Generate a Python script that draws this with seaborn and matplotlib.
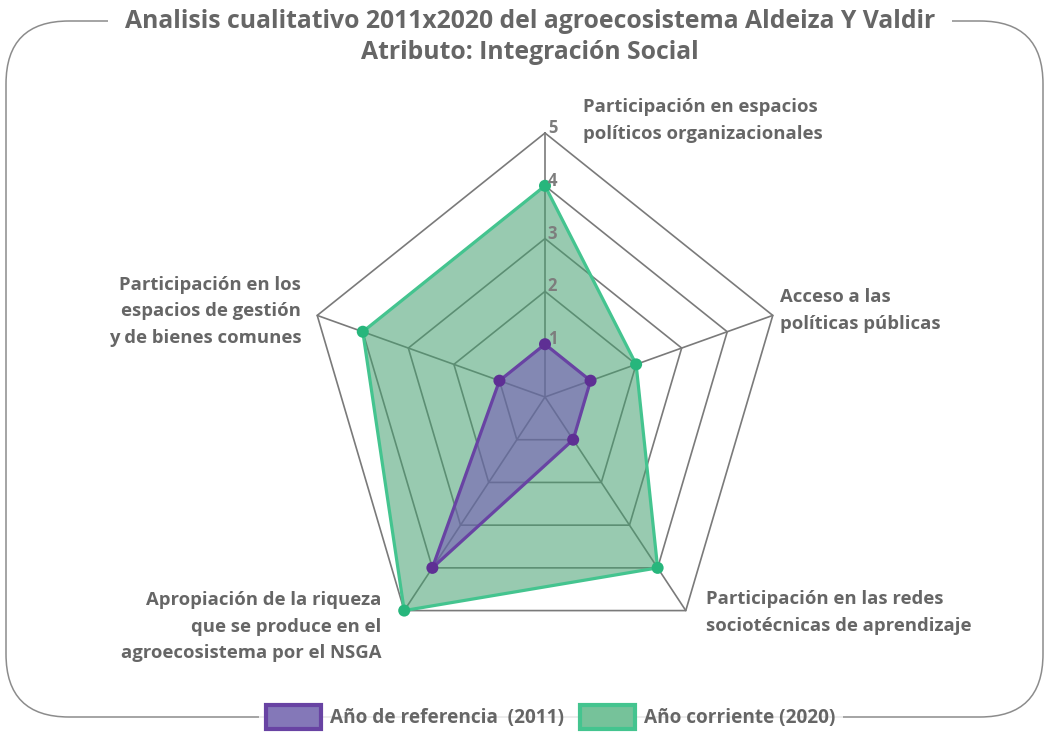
import numpy as np
import pandas as pd
import matplotlib
matplotlib.use('Agg')
import matplotlib.pyplot as plt
from matplotlib.patches import FancyBboxPatch, Patch
import seaborn as sns

# data
categories = ['Participación en espacios\npolíticos organizacionales',
              'Acceso a las\npolíticas públicas',
              'Participación en las redes\nsociotécnicas de aprendizaje',
              'Apropiación de la riqueza\nque se produce en el\nagroecosistema por el NSGA',
              'Participación en los\nespacios de gestión\ny de bienes comunes']
ref_2011 = [1, 1, 1, 4, 1]
cur_2020 = [4, 2, 4, 5, 4]
ticks = [1, 2, 3, 4, 5]
series_names = ['Año de referencia  (2011)', 'Año corriente (2020)']
title = 'Analisis cualitativo 2011x2020 del agroecosistema Aldeiza Y Valdir\nAtributo: Integración Social'

sns.set_theme(style='white')
plt.rcParams['font.family'] = ['Open Sans', 'DejaVu Sans']

txt = '#666666'
grid_c = '#7a7a7a'
purple_line, purple_fill, purple_dot = '#6843a3', '#7253b6', '#5e2f94'
green_line, green_fill, green_dot = '#44c48f', '#44a06f', '#27b67c'

W, H = 1049, 733
fig = plt.figure(figsize=(W / 100, H / 100), dpi=100)

# radar drawn on a cartesian axes, unit sizes in px
cx, cy = 545, 397
ux, uy = 47.9, 52.8
ax = fig.add_axes([(cx - 6 * ux) / W, (H - cy - 6 * uy) / H, 12 * ux / W, 12 * uy / H])
ax.set_xlim(-6, 6)
ax.set_ylim(-6, 6)
ax.axis('off')

n = len(categories)
theta = np.arange(n) * 2 * np.pi / n
sx, sy = np.sin(theta), np.cos(theta)

# grid
for t in ticks:
    ax.plot(np.append(t * sx, t * sx[0]), np.append(t * sy, t * sy[0]),
            color=grid_c, lw=1.2, zorder=1)
    ax.text(0.06, t, str(t), color='#7d7d7d', fontsize=12,
            fontweight='bold', ha='left', va='baseline', zorder=5)
for k in range(n):
    ax.plot([0, ticks[-1] * sx[k]], [0, ticks[-1] * sy[k]], color=grid_c, lw=1.2, zorder=1)

def draw(vals, line_c, fill_c, dot_c, alpha, z):
    v = np.array(vals, dtype=float)
    df = pd.DataFrame({'x': np.append(v * sx, v[0] * sx[0]),
                       'y': np.append(v * sy, v[0] * sy[0])})
    ax.fill(df.x, df.y, color=fill_c, alpha=alpha, lw=0, zorder=z)
    sns.lineplot(data=df, x='x', y='y', sort=False, estimator=None, ax=ax,
                 color=line_c, lw=2.3, zorder=z + 1)
    sns.scatterplot(data=df.iloc[:n], x='x', y='y', ax=ax, color=dot_c, s=75,
                    edgecolor='none', zorder=z + 2)

draw(cur_2020, green_line, green_fill, green_dot, 0.55, 2)
draw(ref_2011, purple_line, purple_fill, purple_dot, 0.55, 6)
ax.set_xlim(-6, 6)
ax.set_ylim(-6, 6)

# category labels
lab_pos = [(0.79, 5.66, 'left'), (4.9, 2.06, 'left'), (3.36, -3.66, 'left'),
           (-3.42, -3.68, 'right'), (-5.09, 2.29, 'right')]
for lab, (x, y, ha) in zip(categories, lab_pos):
    ax.text(x, y, lab, ha=ha, va='top', color=txt, fontsize=13.3,
            fontweight='bold', linespacing=1.6)

# rounded frame
frame = FancyBboxPatch((6 / W, 16 / H), (W - 12) / W, (H - 37) / H,
                       boxstyle='round,pad=0,rounding_size=0.06',
                       transform=fig.transFigure, facecolor='none',
                       edgecolor='#8c8c8c', lw=1.1, mutation_aspect=W / H)
fig.add_artist(frame)

fig.text(530 / W, (H - 37) / H, title, ha='center', va='center', color=txt,
         fontsize=17.8, fontweight='bold', linespacing=1.35,
         bbox=dict(facecolor='white', edgecolor='none', pad=12))

handles = [Patch(facecolor='#8478b8', edgecolor=purple_line, lw=3),
           Patch(facecolor='#76c29a', edgecolor=green_line, lw=3)]
leg = fig.legend(handles, series_names, loc='center', bbox_to_anchor=(0.525, 16 / H),
                 ncol=2, frameon=True, handlelength=2.9,
                 handleheight=1.6, columnspacing=0.85, handletextpad=0.45,
                 borderpad=0.4, prop={'weight': 'bold', 'size': 13.7})
leg.get_frame().set_facecolor('white')
leg.get_frame().set_edgecolor('none')
for t in leg.get_texts():
    t.set_color(txt)

fig.savefig('out.png', dpi=100, facecolor='white')
